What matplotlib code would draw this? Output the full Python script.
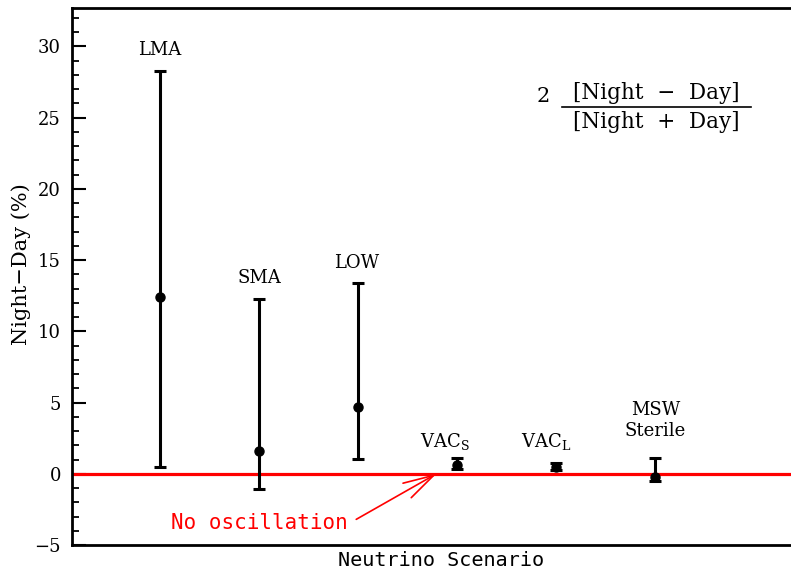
import matplotlib.pyplot as plt
import numpy as np

# scenario values (percent)
scenarios = ['LMA', 'SMA', 'LOW', 'VAC$_\\mathregular{S}$', 'VAC$_\\mathregular{L}$', 'MSW\nSterile']
positions = [1, 2, 3, 4, 5, 6]
central = [12.4, 1.6, 4.7, 0.6, 0.45, -0.2]
upper = [28.3, 12.3, 13.4, 1.1, 0.75, 1.1]
lower = [0.5, -1.05, 1.05, 0.35, 0.25, -0.5]

# label positions next to each bar
label_x = [1.0, 2.0, 2.98, 3.88, 4.9, 6.0]
label_y = [29.1, 13.1, 14.2, 1.55, 1.55, 2.4]

plt.rcParams['font.family'] = 'DejaVu Serif'
plt.rcParams['mathtext.fontset'] = 'dejavuserif'

fig = plt.figure(figsize=(7.91, 5.75), dpi=100)
ax = fig.add_axes([72 / 791, 30 / 575, 1 - 72 / 791 + 0.01, 537 / 575])

c = np.array(central)
yerr = [c - np.array(lower), np.array(upper) - c]
ax.errorbar(positions, central, yerr=yerr, fmt='o', color='black', ms=6.5,
            elinewidth=2.2, capsize=4, capthick=2.2, zorder=3)

ax.axhline(0, color='red', lw=2.3, zorder=2)

for lx, ly, name in zip(label_x, label_y, scenarios):
    ax.text(lx, ly, name, ha='center', va='bottom', fontsize=13, linespacing=1.2)

ax.annotate('', xy=(3.79, 0), xytext=(2.98, -3.2),
            arrowprops=dict(arrowstyle='->,head_length=1.1,head_width=0.3',
                            color='red', lw=1.2, mutation_scale=20,
                            shrinkA=0, shrinkB=0))
ax.text(2.0, -3.45, 'No oscillation', color='red', fontsize=15,
        ha='center', va='center', family='DejaVu Sans Mono')

# formula in the top right
fx, fy = 0.804, 0.8156
ax.text(fx, fy + 0.006, '[Night  \u2212  Day]', transform=ax.transAxes, ha='center',
        va='bottom', fontsize=15.5)
ax.text(fx, fy - 0.008, '[Night  +  Day]', transform=ax.transAxes, ha='center',
        va='top', fontsize=15.5)
ax.plot([fx - 0.13, fx + 0.13], [fy, fy], transform=ax.transAxes,
        color='black', lw=1.2)
ax.text(0.657, 0.836, '2', transform=ax.transAxes, ha='right', va='center',
        fontsize=15)

ax.set_xlim(0.11, 7.45)
ax.set_ylim(-5, 32.7)
ax.set_xticks([])
ax.set_yticks(np.arange(-5, 31, 5))
ax.set_yticks(np.arange(-5, 33, 1), minor=True)
ax.tick_params(axis='y', which='major', direction='in', length=10, width=1.5,
               labelsize=13, pad=8)
ax.tick_params(axis='y', which='minor', direction='in', length=5, width=1.3)
ax.set_yticklabels(['\u22125', '0', '5', '10', '15', '20', '25', '30'])

for s in ['left', 'top', 'bottom']:
    ax.spines[s].set_linewidth(2)
ax.spines['right'].set_visible(False)

ax.set_ylabel('Night\u2212Day (%)', fontsize=15)
ax.yaxis.set_label_coords(-0.056, 0.523)
ax.set_xlabel('Neutrino Scenario', fontsize=14.5, family='DejaVu Sans Mono')
ax.xaxis.set_label_coords(0.508, -0.012)
ax.xaxis.label.set_va('top')

fig.savefig('out.png', dpi=100)
